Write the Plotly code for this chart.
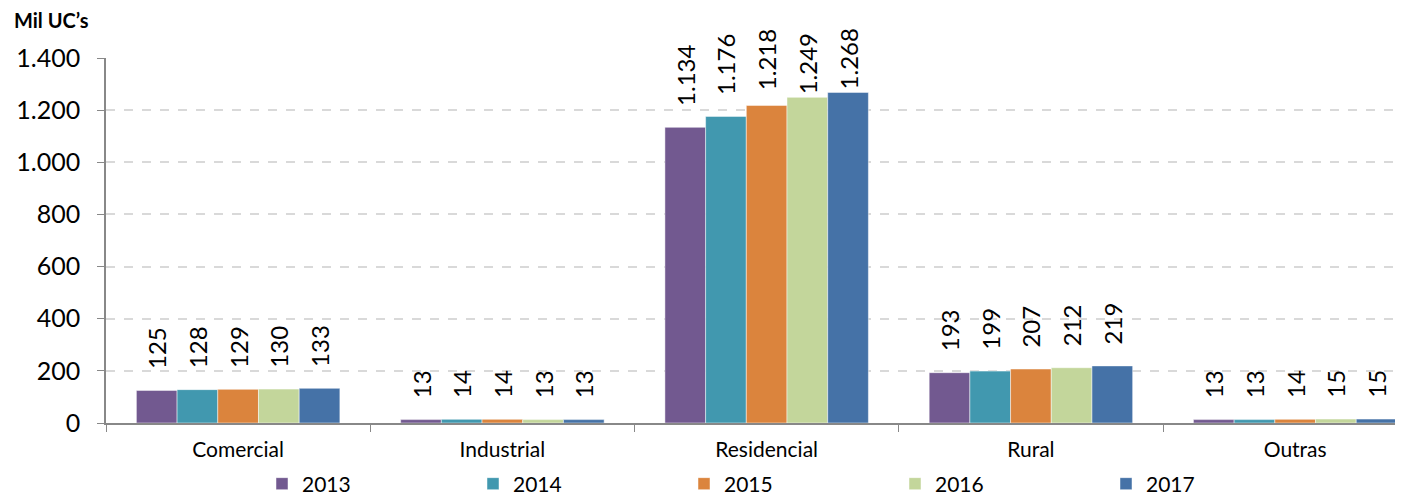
import plotly.graph_objects as go

categories = ["Comercial", "Industrial", "Residencial", "Rural", "Outras"]
years = ["2013", "2014", "2015", "2016", "2017"]
v2013 = [125, 13, 1134, 193, 13]
v2014 = [128, 14, 1176, 199, 13]
v2015 = [129, 14, 1218, 207, 14]
v2016 = [130, 13, 1249, 212, 15]
v2017 = [133, 13, 1268, 219, 15]
series = [v2013, v2014, v2015, v2016, v2017]
colors = ["#725990", "#4198AF", "#DB843D", "#C3D69B", "#4572A7"]
y_ticks = [0, 200, 400, 600, 800, 1000, 1200, 1400]

FONT = "Lato, Noto Sans, sans-serif"
LABEL_SIZE = 24
OFF = 8  # page body margin of the html page
W, H = 1403 - OFF, 499 - OFF
ML, MR, MT, MB = 106 - OFF, 0, 58 - OFF, 76
YMAX = 1400


def fmt(v):
    return f"{v:,}".replace(",", ".")


def label(v):
    # keep a gap between bar and label, but keep labels inside the image top (as in Excel)
    px_per_unit = (H - MT - MB) / YMAX
    bar_top = MT + (YMAX - v) * px_per_unit
    s = fmt(v)
    text_len = sum(0.22 if c == "." else 0.58 for c in s) * LABEL_SIZE
    free = bar_top - (30 - OFF) - text_len - 3
    nbsp_w = 0.193 * LABEL_SIZE
    n = int(max(0, min(3, free // nbsp_w)))
    return "\u00a0" * n + s


fig = go.Figure()
for yr, vals, col in zip(years, series, colors):
    fig.add_trace(go.Bar(
        x=categories, y=vals, name=yr,
        marker=dict(color=col, line=dict(color="rgba(255,255,255,0.6)", width=0.8)),
        text=[label(v) for v in vals], textposition="outside", textangle=-90,
        textfont=dict(size=LABEL_SIZE, color="#000000", family=FONT),
        cliponaxis=False, constraintext="none", hoverinfo="x+y+name",
    ))

fig.update_layout(
    width=W, height=H,
    margin=dict(l=ML, r=MR, t=MT, b=MB, autoexpand=False),
    paper_bgcolor="white", plot_bgcolor="white",
    barmode="group", bargap=0.23, bargroupgap=0,
    separators=",.",
    font=dict(family=FONT, color="#000000"),
    showlegend=True,
    legend=dict(orientation="h", xref="container", x=(283 - OFF - 21) / W, xanchor="left",
                yref="container", y=15 / H, yanchor="middle",
                font=dict(size=21, family=FONT), entrywidth=166, entrywidthmode="pixels",
                itemwidth=30, tracegroupgap=0, traceorder="normal"),
    xaxis=dict(
        range=[-0.5, 4.408], showgrid=False, showline=True, linecolor="#888888",
        linewidth=1.5, ticks="outside", tickson="boundaries", ticklen=7,
        tickcolor="#888888", tickfont=dict(size=21, family=FONT), automargin=False,
        ticklabelstandoff=7,
    ),
    yaxis=dict(
        range=[0, YMAX], tickvals=y_ticks, tickformat=",", showline=True,
        linecolor="#888888", linewidth=1.5, ticks="outside", ticklen=7,
        tickcolor="#888888", tickfont=dict(size=25, family=FONT), automargin=False,
        ticklabelstandoff=12,
        showgrid=True, gridcolor="#D9D9D9", griddash="dash", gridwidth=1.5,
        zeroline=False,
    ),
    annotations=[dict(text="<b>Mil UC’s</b>", xref="paper", yref="paper",
                      x=0, xanchor="left", y=1, yanchor="middle",
                      xshift=-94, yshift=38, showarrow=False,
                      font=dict(size=20, family=FONT))],
)

fig.write_html("out.html")
